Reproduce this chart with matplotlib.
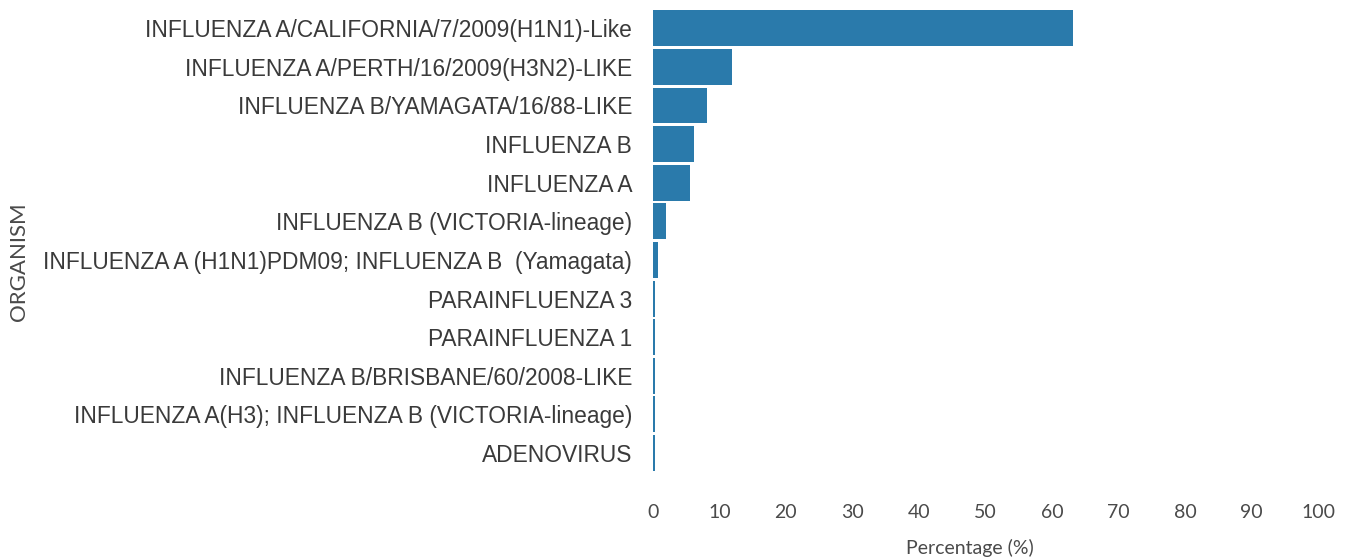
import matplotlib
matplotlib.use('Agg')
import matplotlib.pyplot as plt

organisms = ['INFLUENZA A/CALIFORNIA/7/2009(H1N1)-Like',
             'INFLUENZA A/PERTH/16/2009(H3N2)-LIKE',
             'INFLUENZA B/YAMAGATA/16/88-LIKE',
             'INFLUENZA B',
             'INFLUENZA A',
             'INFLUENZA B (VICTORIA-lineage)',
             'INFLUENZA A (H1N1)PDM09; INFLUENZA B  (Yamagata)',
             'PARAINFLUENZA 3',
             'PARAINFLUENZA 1',
             'INFLUENZA B/BRISBANE/60/2008-LIKE',
             'INFLUENZA A(H3); INFLUENZA B (VICTORIA-lineage)',
             'ADENOVIRUS']
percent = [63.2, 11.9, 8.1, 6.2, 5.6, 2.0, 0.8, 0.3, 0.3, 0.3, 0.3, 0.3]
xticks = [0, 10, 20, 30, 40, 50, 60, 70, 80, 90, 100]

fig = plt.figure(figsize=(13.49, 5.59), dpi=100)
ax = fig.add_axes([0.484, 0.155, 0.493, 0.829])

ypos = list(range(len(organisms)))
ax.barh(ypos, percent, height=0.93, color='#2a7aab')
ax.set_ylim(len(organisms) - 0.5, -0.5)
ax.set_xlim(0, 100)
ax.set_yticks(ypos)
ax.set_yticklabels(organisms, family='Liberation Sans', fontsize=16.4, color='#3a3a3a')
ax.set_xticks(xticks)
ax.set_xticklabels([str(t) for t in xticks], family='Lato', fontsize=14, color='#4a4a4a')
ax.tick_params(axis='y', length=0, pad=15)
ax.tick_params(axis='x', length=0, pad=23)
for s in ax.spines.values():
    s.set_visible(False)

ax.set_xlabel('Percentage (%)', family='Lato', fontsize=14, color='#4a4a4a')
ax.xaxis.set_label_coords(0.476, -0.143)
fig.text(0.014, 0.531, 'ORGANISM', rotation=90, ha='center', va='center',
         family='Lato', fontsize=16, color='#4a4a4a')

fig.savefig('out.png', dpi=100)
